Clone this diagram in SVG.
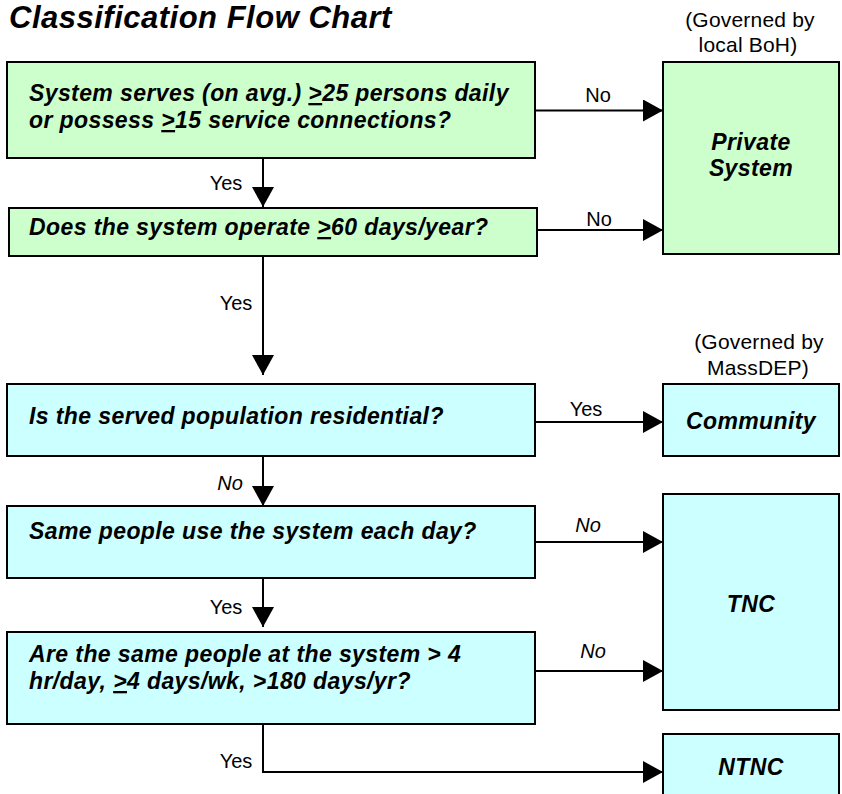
<svg xmlns="http://www.w3.org/2000/svg" width="842" height="794" viewBox="0 0 842 794">
<style>
.box{stroke:#000;stroke-width:2}
.g{fill:#CCFFCC}
.c{fill:#CCFFFF}
.bt{font-family:"Liberation Sans",Arial,sans-serif;font-weight:bold;font-style:italic;font-size:23px;letter-spacing:0.4px;fill:#000}
.lb{font-family:"Liberation Sans",Arial,sans-serif;font-size:20px;letter-spacing:0px;fill:#000;text-anchor:middle}
.it{font-style:italic}
.gov{font-family:"Liberation Sans",Arial,sans-serif;font-size:21px;letter-spacing:0.2px;fill:#000;text-anchor:middle}
.ctr{text-anchor:middle}
.ln{fill:none;stroke:#000;stroke-width:2}
.u{text-decoration:underline}
</style>
<defs>
<marker id="ah" markerUnits="userSpaceOnUse" markerWidth="20" markerHeight="22" viewBox="0 0 20 22" refX="20" refY="11" orient="auto">
<path d="M0,0 L20,11 L0,22 z" fill="#000"/>
</marker>
</defs>
<text x="9" y="28" font-family="Liberation Sans, Arial, sans-serif" font-weight="bold" font-style="italic" font-size="31" letter-spacing="0.5">Classification Flow Chart</text>

<g id="connectors">
<line class="ln" x1="263" y1="157" x2="263" y2="207" marker-end="url(#ah)"/>
<line class="ln" x1="263" y1="256" x2="263" y2="375" marker-end="url(#ah)"/>
<line class="ln" x1="263" y1="456" x2="263" y2="506" marker-end="url(#ah)"/>
<line class="ln" x1="263" y1="578" x2="263" y2="627" marker-end="url(#ah)"/>
<polyline class="ln" points="263,724 263,772 663,772" marker-end="url(#ah)"/>
<line class="ln" x1="535" y1="110.5" x2="663" y2="110.5" marker-end="url(#ah)"/>
<line class="ln" x1="534" y1="230" x2="663" y2="230" marker-end="url(#ah)"/>
<line class="ln" x1="535" y1="422" x2="663" y2="422" marker-end="url(#ah)"/>
<line class="ln" x1="535" y1="542" x2="663" y2="542" marker-end="url(#ah)"/>
<line class="ln" x1="535" y1="671" x2="663" y2="671" marker-end="url(#ah)"/>
<text class="lb" x="598" y="102">No</text>
<text class="lb" x="599" y="226">No</text>
<text class="lb" x="226" y="190">Yes</text>
<text class="lb" x="236" y="310">Yes</text>
<text class="lb it" x="230" y="490">No</text>
<text class="lb" x="226" y="614">Yes</text>
<text class="lb" x="236" y="768">Yes</text>
<text class="lb" x="586" y="416">Yes</text>
<text class="lb it" x="588" y="532">No</text>
<text class="lb it" x="593" y="658">No</text>
</g>

<g id="q1">
<rect class="box g" x="7" y="62" width="528" height="96"/>
<text class="bt" x="29" y="101">System serves (on avg.) <tspan class="u">&gt;</tspan>25 persons daily</text>
<text class="bt" x="29" y="128">or possess <tspan class="u">&gt;</tspan>15 service connections?</text>
</g>

<g id="q2">
<rect class="box g" x="9" y="208" width="528" height="48"/>
<text class="bt" x="29" y="235">Does the system operate <tspan class="u">&gt;</tspan>60 days/year?</text>
</g>

<g id="q3">
<rect class="box c" x="7" y="384" width="528" height="72"/>
<text class="bt" x="29" y="424">Is the served population residential?</text>
</g>

<g id="q4">
<rect class="box c" x="7" y="506" width="528" height="72"/>
<text class="bt" x="29" y="539">Same people use the system each day?</text>
</g>

<g id="q5">
<rect class="box c" x="7" y="632" width="528" height="92"/>
<text class="bt" x="29" y="662">Are the same people at the system &gt; 4</text>
<text class="bt" x="29" y="689">hr/day, <tspan class="u">&gt;</tspan>4 days/wk, &gt;180 days/yr?</text>
</g>

<g id="private">
<text class="gov" x="750" y="27">(Governed by</text>
<text class="gov" x="748" y="52">local BoH)</text>
<rect class="box g" x="663" y="62" width="176" height="192"/>
<text class="bt ctr" x="751" y="150">Private</text>
<text class="bt ctr" x="751" y="176">System</text>
</g>

<g id="community">
<text class="gov" x="759" y="349">(Governed by</text>
<text class="gov" x="758" y="375">MassDEP)</text>
<rect class="box c" x="663" y="384" width="176" height="72"/>
<text class="bt ctr" x="751" y="429">Community</text>
</g>

<g id="tnc">
<rect class="box c" x="663" y="494" width="176" height="216"/>
<text class="bt ctr" x="751" y="612">TNC</text>
</g>

<g id="ntnc">
<rect class="box c" x="663" y="734" width="176" height="80"/>
<text class="bt ctr" x="751" y="775">NTNC</text>
</g>
</svg>
